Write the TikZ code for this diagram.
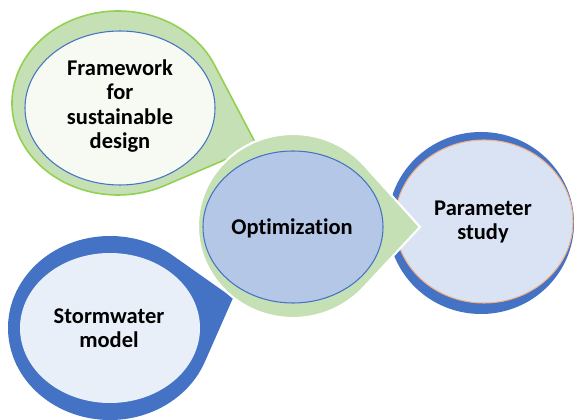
\documentclass[tikz,border=0pt]{standalone}
\usepackage{fontspec}
\setmainfont{Carlito}[Ligatures=NoCommon]
\usepackage{xcolor}
\definecolor{leaf}{RGB}{197,224,180}
\definecolor{lime}{RGB}{146,208,80}
\definecolor{royal}{RGB}{68,114,196}
\definecolor{steel}{RGB}{180,199,231}
\definecolor{paleblue}{RGB}{218,227,243}
\definecolor{peach}{RGB}{244,177,131}
\definecolor{mist}{RGB}{233,239,249}
\definecolor{offwhite}{RGB}{246,250,243}

% teardrop: style, centre x, centre y, x radius, y radius, tip x, tip y
\newcommand{\teardrop}[7]{%
  \pgfmathsetmacro\tdx{(#6-#2)/#4}
  \pgfmathsetmacro\tdy{(#7-#3)/#5}
  \pgfmathsetmacro\tdang{atan2(\tdy,\tdx)}
  \pgfmathsetmacro\tdopen{acos(1/sqrt(\tdx*\tdx+\tdy*\tdy))}
  \path[#1, shift={(#2,#3)}, xscale=#4, yscale=#5]
    (\tdx,\tdy) -- ({\tdang+\tdopen}:1)
    arc[start angle=\tdang+\tdopen, end angle=\tdang-\tdopen+360, radius=1]
    -- cycle;
}

\tikzset{
  label/.style={font=\bfseries\fontsize{12.8}{13.8}\selectfont, align=center},
  inner/.style={line width=.6pt}
}

\begin{document}
\begin{tikzpicture}[x=0.02cm, y=0.02cm]
  \useasboundingbox (0,0) rectangle (574,419);
  \fill[white] (0,0) rectangle (574,419);
  \clip (0,0) rectangle (574,419);

  % parameter study
  \fill[royal] (481,196) ellipse [x radius=93, y radius=91];
  \draw[inner, peach, fill=paleblue] (484,197.5) ellipse [x radius=89, y radius=81.5];
  \node[label] (param) at (483,197) {Parameter\\study};

  % stormwater model
  \teardrop{fill=royal}{110}{91}{102}{92}{233}{121}
  \fill[mist] (110,91) ellipse [x radius=90, y radius=75];
  \node[label] (storm) at (109,91) {Stormwater\\model};

  % framework
  \teardrop{fill=leaf, draw=lime, line width=.9pt}{118}{316}{106}{92}{257}{273}
  \draw[inner, royal, fill=offwhite] (120,311) ellipse [x radius=95, y radius=77];
  \node[label] (frame) at (120,313) {Framework\\for\\sustainable\\design};

  % optimization on top
  \teardrop{fill=leaf, draw=white, line width=1.2pt}{293}{193}{95}{92}{420}{192}
  \draw[inner, royal, fill=steel] (293,192) ellipse [x radius=90, y radius=76];
  \node[label] (optim) at (292,191) {Optimization};
\end{tikzpicture}
\end{document}
